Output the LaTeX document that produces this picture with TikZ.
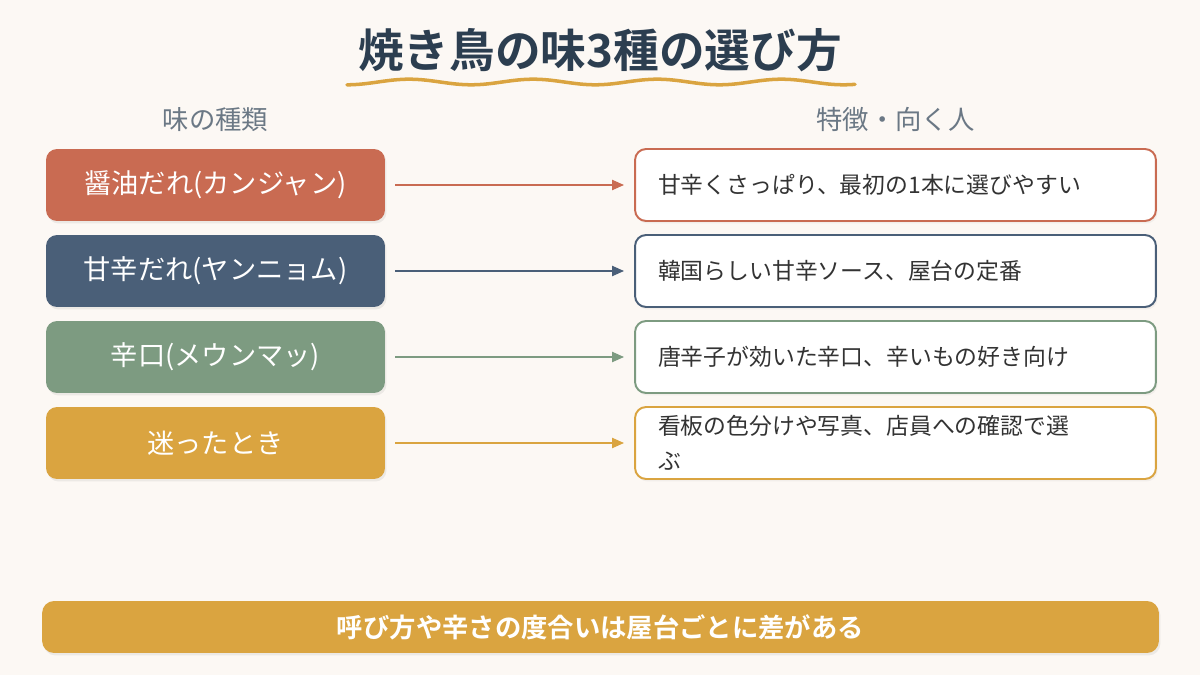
\documentclass[tikz,border=0pt]{standalone}
\usepackage{fontspec}
\setmainfont{Noto Sans CJK JP}[BoldFont={Noto Sans CJK JP Bold}]
\usepackage{xcolor}
\usepackage{tikz}
\usetikzlibrary{arrows.meta, positioning, shadows}

\definecolor{bgcream}{HTML}{FCF8F4}
\definecolor{soyred}{HTML}{C96B52}
\definecolor{yangblue}{HTML}{4A5F78}
\definecolor{spicygreen}{HTML}{7D9B81}
\definecolor{gold}{HTML}{DAA440}
\definecolor{titlenavy}{HTML}{2C3E50}
\definecolor{headgray}{HTML}{6B7885}
\definecolor{notetext}{HTML}{333333}

\begin{document}
\begin{tikzpicture}[
    x=0.02cm, y=-0.02cm,
    kind/.style={rectangle, rounded corners=0.22cm, minimum width=6.78cm, minimum height=1.44cm, text=white, font=\fontsize{15.5}{18}\selectfont, drop shadow={shadow xshift=0.03cm, shadow yshift=-0.05cm, opacity=0.12}},
    note/.style={rectangle, rounded corners=0.22cm, draw, line width=1.1pt, fill=white, minimum height=1.44cm, text width=9.5cm, inner xsep=0.46cm, align=left, text=notetext, font=\fontsize{13}{20}\selectfont, drop shadow={shadow xshift=0.03cm, shadow yshift=-0.05cm, opacity=0.08}},
    head/.style={text=headgray, font=\fontsize{15}{17}\selectfont},
    link/.style={-{Triangle[length=6.8pt, width=5.7pt]}, line width=1.1pt, shorten <=0.2cm, shorten >=0.2cm},
]
    % Background
    \fill[bgcream] (0,0) rectangle (1200,675);

    % Title with wavy underline
    \node[text=titlenavy, font=\bfseries\fontsize{26}{30}\selectfont] (title) at (600,50) {焼き鳥の味3種の選び方};
    \draw[gold, line width=2pt, line cap=round] plot[domain=347:855, samples=150, smooth] (\x, {82+2.8*cos((\x-347)*2.9)});

    % Column heads
    \node[head] (kindhead) at (215.5,120) {味の種類};
    \node[head] (notehead) at (895.5,120) {特徴・向く人};

    % Left column
    \node[kind, fill=soyred] (soy) at (215.5,185) {醤油だれ(カンジャン)};
    \node[kind, fill=yangblue] (yang) at (215.5,271) {甘辛だれ(ヤンニョム)};
    \node[kind, fill=spicygreen] (spicy) at (215.5,357) {辛口(メウンマッ)};
    \node[kind, fill=gold] (unsure) at (215.5,443) {迷ったとき};

    % Right column
    \node[note, draw=soyred] (soynote) at (895.5,185) {甘辛くさっぱり、最初の1本に選びやすい};
    \node[note, draw=yangblue] (yangnote) at (895.5,271) {韓国らしい甘辛ソース、屋台の定番};
    \node[note, draw=spicygreen] (spicynote) at (895.5,357) {唐辛子が効いた辛口、辛いもの好き向け};
    \node[note, draw=gold] (unsurenote) at (895.5,443) {看板の色分けや写真、店員への確認で選\\ぶ};

    % Links
    \draw[link, soyred] (soy) -- (soynote);
    \draw[link, yangblue] (yang) -- (yangnote);
    \draw[link, spicygreen] (spicy) -- (spicynote);
    \draw[link, gold] (unsure) -- (unsurenote);

    % Bottom remark
    \node[rectangle, rounded corners=0.24cm, fill=gold, minimum width=22.34cm, minimum height=1.04cm, text=white, font=\bfseries\fontsize{15}{18}\selectfont, drop shadow={shadow xshift=0.03cm, shadow yshift=-0.05cm, opacity=0.12}] (remark) at (600.5,627) {呼び方や辛さの度合いは屋台ごとに差がある};

\end{tikzpicture}
\end{document}
